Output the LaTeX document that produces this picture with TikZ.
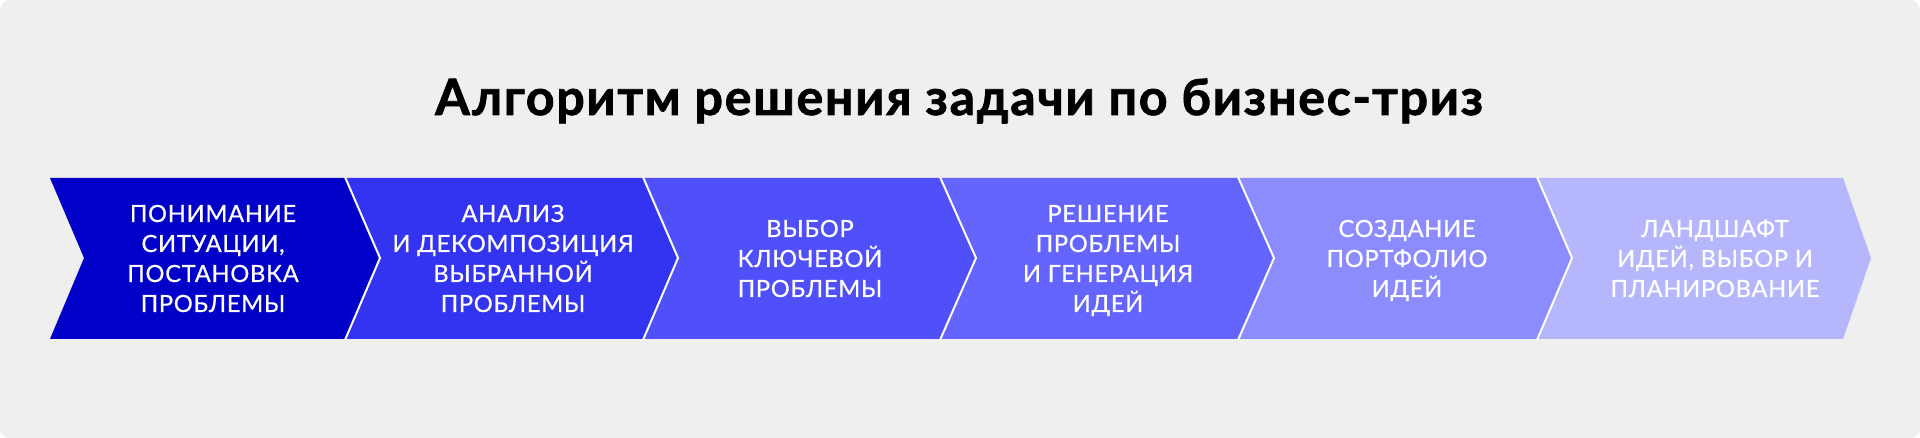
\documentclass[tikz,border=0pt]{standalone}
\usepackage{fontspec}
\setmainfont{Lato}
\definecolor{bgc}{RGB}{239,239,239}
\definecolor{cA}{RGB}{0,0,200}
\definecolor{cB}{RGB}{51,51,242}
\definecolor{cC}{RGB}{80,80,250}
\definecolor{cD}{RGB}{100,100,255}
\definecolor{cE}{RGB}{140,140,255}
\definecolor{cF}{RGB}{182,182,253}
\tikzset{
  steptext/.style={text=white, align=center, inner sep=0pt, anchor=base,
    font=\fontsize{23.7}{30}\selectfont\addfontfeatures{LetterSpace=3,FakeBold=0.6}},
  sepline/.style={draw=white, line width=2pt},
  titletext/.style={anchor=base, inner sep=0pt, font=\fontsize{50}{55}\selectfont\bfseries\addfontfeatures{LetterSpace=3.5,FakeBold=1.5}}
}
\begin{document}
\begin{tikzpicture}[x=1pt,y=-1pt]
\useasboundingbox (0,0) rectangle (1920,438);
\fill[white] (0,0) rectangle (1920,438);
\fill[bgc, rounded corners=10pt] (0,0) rectangle (1920,438);
% title
\node[titletext] (title) at (959,115) {Алгоритм решения задачи по бизнес-триз};
% chevrons
\fill[cA] (50,178) -- (345,178) -- (380,258) -- (345,339) -- (50,339) -- (84,258) -- cycle;
\fill[cB] (345,178) -- (643,178) -- (678,258) -- (643,339) -- (345,339) -- (380,258) -- cycle;
\fill[cC] (643,178) -- (940,178) -- (976,258) -- (940,339) -- (643,339) -- (678,258) -- cycle;
\fill[cD] (940,178) -- (1238,178) -- (1274,258) -- (1238,339) -- (940,339) -- (976,258) -- cycle;
\fill[cE] (1238,178) -- (1537,178) -- (1572,258) -- (1537,339) -- (1238,339) -- (1274,258) -- cycle;
\fill[cF] (1537,178) -- (1843,178) -- (1871,258) -- (1843,339) -- (1537,339) -- (1572,258) -- cycle;
% separators
\foreach \b/\t in {345/380, 643/678, 940/976, 1238/1274, 1537/1572}
  \draw[sepline] (\b,177) -- (\t,258) -- (\b,340);
% texts (anchored at the baseline of the last line)
\node[steptext] (s1) at (213,312) {ПОНИМАНИЕ\\СИТУАЦИИ,\\ПОСТАНОВКА\\ПРОБЛЕМЫ};
\node[steptext] (s2) at (513,312) {АНАЛИЗ\\И ДЕКОМПОЗИЦИЯ\\ВЫБРАННОЙ\\ПРОБЛЕМЫ};
\node[steptext] (s3) at (810,297) {ВЫБОР\\КЛЮЧЕВОЙ\\ПРОБЛЕМЫ};
\node[steptext] (s4) at (1108,312) {РЕШЕНИЕ\\ПРОБЛЕМЫ\\И ГЕНЕРАЦИЯ\\ИДЕЙ};
\node[steptext] (s5) at (1407,297) {СОЗДАНИЕ\\ПОРТФОЛИО\\ИДЕЙ};
\node[steptext] (s6) at (1715,297) {ЛАНДШАФТ\\ИДЕЙ, ВЫБОР И\\ПЛАНИРОВАНИЕ};
\end{tikzpicture}
\end{document}
